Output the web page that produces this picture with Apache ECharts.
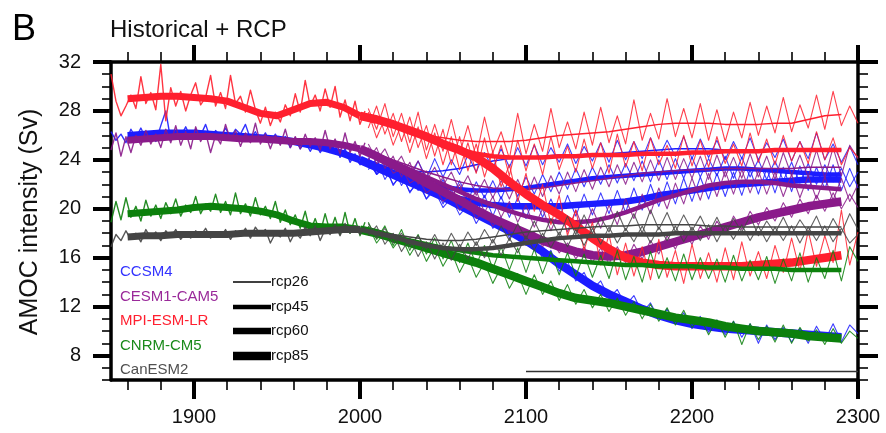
<!DOCTYPE html>
<html><head><meta charset="utf-8">
<script src="https://cdn.jsdelivr.net/npm/echarts@6/dist/echarts.min.js"></script>
<style>html,body{margin:0;padding:0;background:#fff}#c{width:886px;height:433px}</style>
</head><body><div id="c"></div><script>
// ---------- axis ticks ----------
const xMajor = [1900, 2000, 2100, 2200, 2300];
const xMinor = [1860,1880,1920,1940,1960,1980,2020,2040,2060,2080,2120,2140,2160,2180,2220,2240,2260,2280];
const yMajor = [8, 12, 16, 20, 24, 28, 32];
const yMinor = [6,7,9,10,11,13,14,15,17,18,19,21,22,23,25,26,27,29,30,31];

// ---------- year grids ----------
const histNoiseStart = 1850, histNoiseStep = 3;   // annual-ish historical values
const histSmoothStart = 1860, histSmoothStep = 10; // smoothed historical
const rcpNoiseStart = 2005, rcpNoiseStep = 5;     // scenario values
const rcpSmoothStart = 2000, rcpSmoothStep = 10;  // smoothed scenario

// ---------- CCSM4 ----------
const ccsm4Hist = [26.3,25.6,26.1,25.4,26.5,25.8,26.6,25.7,26.3,25.5,26.8,28.0,25.6,26.4,25.9,26.7,25.8,26.5,26.0,26.9,25.7,26.4,25.9,26.6,25.8,26.5,26.1,26.9,25.7,26.3,25.5,26.2,25.4,26.1,25.3,25.9,25.0,25.8,24.9,25.5,24.7,25.4,24.6,25.2,24.6,25.2,24.2,24.9,23.8,24.5,23.6,24.1];
const ccsm4HistSmooth = [26.0,26.1,26.2,26.2,26.2,26.1,26.0,25.9,25.8,25.7,25.5,25.2,24.9,24.5,24.0];
const ccsm4Rcp26 = [23.8,22.9,24.0,22.6,23.7,22.4,23.9,22.5,24.1,22.6,24.0,22.8,24.4,23.0,24.6,23.3,24.9,23.4,25.0,23.5,25.2,23.6,25.0,23.8,25.3,23.7,25.1,23.9,25.4,23.8,25.6,24.0,25.5,24.1,25.8,24.2,25.6,24.3,25.9,24.1,25.7,24.2,25.6,24.0,25.5,24.1,25.8,24.0,25.4,24.2,25.7,23.9,25.5,24.1,26.2,24.0,25.3,23.8,25.1,23.6];
const ccsm4Rcp45 = [23.2,24.1,22.4,23.5,21.9,23.0,21.5,22.6,21.0,22.4,20.8,22.3,20.7,22.2,20.9,22.3,20.8,22.5,21.0,22.6,21.2,22.8,21.4,23.0,21.6,23.3,21.8,23.4,22.0,23.6,22.1,23.7,22.3,23.9,22.2,24.0,22.4,24.1,22.5,24.2,22.6,24.1,22.7,24.3,22.5,24.2,22.6,24.0,22.4,23.9,22.3,23.8,22.1,23.7,22.0,23.6,22.2,23.3,21.8,23.0];
const ccsm4Rcp60 = [24.2,22.8,23.6,21.9,22.9,21.3,22.4,20.8,21.9,20.4,21.6,19.9,21.3,19.6,21.1,19.4,21.0,19.3,20.9,19.2,21.0,19.3,20.8,19.2,21.1,19.4,21.2,19.5,21.3,19.6,21.5,19.7,21.7,19.9,22.0,20.2,22.2,20.4,22.5,20.6,22.6,20.8,22.9,21.0,23.0,21.1,23.2,21.2,23.3,21.3,23.4,21.4,23.5,21.5,23.4,21.6,23.6,21.5,23.3,21.7];
const ccsm4Rcp85 = [23.9,22.8,23.4,22.0,22.8,21.4,22.1,20.8,21.5,20.1,20.9,19.5,20.3,18.8,19.9,18.4,19.3,17.6,18.6,17.0,17.6,15.9,16.6,14.9,15.7,14.1,14.8,13.4,14.1,12.7,13.4,12.1,12.9,11.5,12.3,11.0,11.8,10.6,11.5,10.2,11.2,9.9,10.9,9.7,10.8,9.5,10.6,9.0,10.5,9.3,10.3,9.1,10.2,9.0,10.4,9.2,10.6,9.1,10.5,9.8];
const ccsm4Rcp26Smooth = [24.0,23.6,23.3,23.1,23.0,23.1,23.3,23.6,23.9,24.1,24.2,24.3,24.4,24.4,24.5,24.5,24.6,24.7,24.8,24.9,24.9,24.9,24.8,24.8,24.8,24.8,24.8,24.8,24.8,24.8];
const ccsm4Rcp45Smooth = [24.0,23.5,23.0,22.5,22.1,21.8,21.6,21.5,21.5,21.6,21.7,21.9,22.1,22.3,22.5,22.6,22.7,22.8,22.9,23.0,23.1,23.2,23.3,23.3,23.2,23.1,23.0,22.9,22.8,22.8];
const ccsm4Rcp60Smooth = [24.0,23.5,22.9,22.3,21.7,21.2,20.8,20.5,20.3,20.2,20.2,20.2,20.2,20.3,20.4,20.5,20.6,20.8,21.1,21.3,21.5,21.7,21.9,22.0,22.1,22.2,22.3,22.4,22.4,22.4];
const ccsm4Rcp85Smooth = [24.0,23.4,22.8,22.2,21.6,21.0,20.3,19.6,18.9,18.2,17.4,16.5,15.5,14.6,13.7,13.0,12.4,11.8,11.3,10.9,10.6,10.4,10.2,10.1,10.0,9.9,9.8,9.7,9.6,9.5];

// ---------- CESM1-CAM5 ----------
const cesmHist = [24.8,26.2,24.3,25.9,24.6,26.0,25.2,26.4,25.3,26.1,25.0,26.5,25.4,26.8,25.2,26.3,24.9,26.7,25.5,26.2,24.6,26.0,25.3,26.9,25.6,26.4,25.1,26.2,25.4,27.0,25.3,26.1,24.9,26.0,25.2,26.5,25.0,25.9,24.9,26.1,25.1,25.8,24.8,26.4,24.9,25.7,24.5,26.2,24.6,25.5,24.3,25.4];
const cesmHistSmooth = [25.6,25.7,25.8,25.9,25.9,25.9,25.8,25.7,25.7,25.6,25.5,25.5,25.4,25.2,24.9];
const cesmRcp26 = [25.3,24.0,24.9,23.4,24.3,22.8,23.9,22.3,23.4,21.9,23.0,21.5,22.7,21.1,22.4,20.9,22.3,20.8,22.4,20.9,22.6,21.0,22.7,21.2,23.0,21.4,23.2,21.6,23.4,21.8,23.6,22.0,23.8,22.2,24.0,22.3,24.2,22.4,24.1,22.5,24.3,22.4,24.4,22.6,24.2,22.5,24.5,22.6,24.3,22.4,24.6,22.7,24.4,22.6,24.8,22.5,25.0,22.7,25.2,24.1];
const cesmRcp45 = [24.0,25.0,23.3,24.3,22.6,23.8,22.0,23.1,21.4,22.6,20.9,22.0,20.2,21.5,19.7,21.0,19.3,20.6,18.9,20.3,18.5,20.0,18.2,19.8,18.1,19.9,18.2,20.0,18.4,20.3,18.7,20.8,19.2,21.2,19.6,21.7,20.0,22.1,20.4,22.5,20.7,22.9,21.0,23.1,21.2,23.2,21.3,23.1,21.2,23.0,21.0,22.8,20.9,22.7,20.8,22.6,20.7,22.5,20.6,22.0];
const cesmRcp85 = [25.0,23.7,24.1,22.9,23.3,22.1,22.5,21.3,21.8,20.6,21.1,19.9,20.4,19.2,19.8,18.6,19.2,18.0,18.7,17.4,18.1,16.9,17.6,16.4,17.2,15.9,16.9,15.6,16.8,15.5,16.9,15.6,17.1,15.9,17.4,16.3,17.8,16.7,18.2,17.1,18.6,17.5,19.0,17.9,19.4,18.3,19.8,18.7,20.1,19.0,20.5,19.3,20.8,19.6,21.1,19.8,21.3,20.0,21.2,20.1];
const cesmRcp26Smooth = [24.9,24.5,24.0,23.5,23.0,22.6,22.2,21.9,21.7,21.6,21.6,21.7,21.9,22.1,22.3,22.5,22.7,22.9,23.0,23.1,23.2,23.2,23.3,23.3,23.3,23.3,23.3,23.4,23.4,23.4];
const cesmRcp45Smooth = [24.9,24.4,23.8,23.2,22.6,22.0,21.4,20.8,20.3,19.8,19.4,19.1,18.9,18.9,19.0,19.3,19.7,20.2,20.7,21.1,21.5,21.9,22.1,22.2,22.2,22.1,21.9,21.8,21.7,21.6];
const cesmRcp85Smooth = [24.9,24.3,23.6,22.9,22.1,21.4,20.7,19.9,19.2,18.6,18.0,17.4,16.9,16.5,16.2,16.1,16.2,16.5,16.9,17.3,17.7,18.1,18.5,18.9,19.3,19.6,19.9,20.2,20.4,20.6];

// ---------- MPI-ESM-LR ----------
const mpiHist = [31.0,28.8,27.6,28.4,29.3,28.2,30.8,28.6,29.5,28.1,31.8,27.2,29.9,28.4,29.6,28.0,29.3,30.3,28.5,29.1,30.9,28.4,29.5,28.2,30.9,28.6,29.2,27.9,29.7,28.1,27.0,28.3,26.8,27.9,27.1,28.5,27.6,29.4,27.9,30.5,28.4,29.3,28.0,29.8,28.3,30.0,27.5,28.9,27.2,28.8,26.9,28.0];
const mpiHistSmooth = [29.0,29.1,29.2,29.2,29.1,29.0,28.8,28.3,27.8,27.6,28.1,28.6,28.7,28.3,27.6];
const mpiRcp26 = [28.2,26.5,28.6,25.9,27.8,25.4,27.9,24.8,26.9,24.7,27.3,24.5,26.8,24.2,27.5,24.6,26.3,24.1,27.8,24.5,26.9,24.7,28.2,25.0,27.1,24.9,27.9,25.2,28.3,25.4,27.6,25.3,28.9,25.6,27.8,25.7,29.0,25.9,28.2,25.8,28.6,25.6,28.1,25.5,27.9,25.8,28.7,26.0,28.4,26.2,29.1,26.3,28.5,26.6,29.3,26.5,29.6,26.8,28.4,27.0];
const mpiRcp45 = [27.9,25.8,27.4,25.2,26.9,24.6,26.7,24.1,26.2,23.6,25.9,23.2,25.4,22.9,25.8,23.0,25.2,22.7,25.6,23.1,25.3,22.8,25.9,23.2,25.1,23.0,25.7,23.3,25.4,22.9,26.1,23.4,25.5,23.1,25.8,23.6,25.2,23.3,26.0,23.5,25.6,23.4,25.9,23.7,25.3,23.5,26.2,23.8,25.7,23.6,26.0,23.9,25.5,23.7,26.3,24.0,25.8,23.6,25.0,24.2];
const mpiRcp85 = [26.6,28.4,26.1,27.8,25.5,27.5,25.0,26.8,24.3,26.5,23.6,25.9,23.1,25.3,22.6,24.7,21.8,23.6,20.6,22.9,19.8,22.0,18.7,21.1,17.8,19.9,16.6,18.9,15.4,17.9,14.6,17.2,14.5,16.9,14.2,17.5,14.4,16.6,13.9,17.1,14.3,16.4,14.0,16.8,14.2,17.3,14.5,16.5,14.3,17.0,14.8,17.6,14.9,18.2,15.3,17.8,15.6,19.9,15.4,18.1];
const mpiRcp26Smooth = [27.6,27.2,26.8,26.4,26.0,25.8,25.6,25.5,25.5,25.5,25.6,25.8,26.0,26.1,26.2,26.3,26.5,26.7,26.9,27.0,27.0,27.0,26.9,26.9,26.9,27.0,27.0,27.3,27.6,27.7];
const mpiRcp45Smooth = [27.6,27.3,26.9,26.4,25.9,25.3,24.8,24.5,24.3,24.2,24.2,24.2,24.3,24.3,24.4,24.4,24.4,24.5,24.5,24.5,24.6,24.6,24.7,24.7,24.7,24.8,24.8,24.8,24.8,24.8];
const mpiRcp85Smooth = [27.6,27.3,26.9,26.4,25.9,25.3,24.8,24.2,23.3,22.2,21.2,20.3,19.5,18.6,17.6,16.7,16.0,15.6,15.4,15.3,15.3,15.3,15.3,15.3,15.4,15.5,15.6,15.8,16.0,16.2];

// ---------- CNRM-CM5 ----------
const cnrmHist = [18.9,20.6,19.1,20.9,19.3,20.2,19.0,20.7,19.4,20.3,19.2,20.5,19.6,20.8,19.4,20.3,19.7,21.0,19.6,20.4,19.8,21.2,19.7,20.6,19.5,21.3,19.6,20.4,19.4,20.9,19.5,20.2,19.2,20.6,18.9,19.9,18.7,19.5,18.4,19.8,18.1,19.2,18.0,19.6,18.1,19.3,17.9,19.7,18.0,19.2,17.8,18.9];
const cnrmHistSmooth = [19.6,19.7,19.8,19.9,20.1,20.2,20.1,20.0,19.8,19.5,19.0,18.6,18.5,18.5,18.3];
const cnrmRcp45 = [18.9,17.5,18.6,17.0,18.3,16.6,17.9,16.3,17.6,15.9,17.4,15.6,17.2,15.4,17.0,15.1,16.9,15.0,16.8,14.8,16.7,14.7,16.5,14.6,16.4,14.5,16.3,14.4,16.2,14.3,16.6,14.2,16.1,14.0,16.5,14.3,16.0,14.1,16.3,14.2,16.0,14.3,15.9,14.0,16.2,14.1,15.8,14.2,16.1,13.9,15.9,14.1,16.4,14.0,16.0,14.3,16.6,14.1,16.9,15.7];
const cnrmRcp85 = [18.6,17.2,18.1,16.8,17.7,16.2,17.3,15.7,16.9,15.3,16.5,14.8,16.1,14.4,15.6,13.9,15.2,13.5,14.7,13.0,14.6,13.0,14.1,12.5,13.8,12.2,13.4,11.9,13.0,11.6,12.7,11.3,12.4,11.0,12.2,10.8,11.9,10.5,11.7,10.3,11.1,9.7,10.9,9.5,10.8,8.9,10.6,9.3,10.4,9.1,10.5,9.0,10.3,9.2,10.1,8.9,10.2,9.0,10.0,9.4];
const cnrmRcp45Smooth = [18.3,18.0,17.7,17.4,17.1,16.8,16.6,16.4,16.2,16.1,16.0,15.9,15.8,15.7,15.6,15.5,15.4,15.4,15.3,15.3,15.3,15.2,15.2,15.1,15.1,15.1,15.0,15.0,15.0,15.0];
const cnrmRcp85Smooth = [18.3,18.0,17.6,17.2,16.8,16.4,16.0,15.6,15.1,14.6,14.1,13.6,13.1,12.7,12.5,12.3,12.0,11.7,11.4,11.1,10.9,10.7,10.4,10.2,10.0,9.9,9.8,9.6,9.5,9.4];

// ---------- CanESM2 ----------
const canHist = [16.9,17.9,17.4,18.2,17.5,18.0,17.3,18.3,17.6,18.1,17.4,18.2,17.7,18.3,17.5,18.0,17.6,18.2,17.8,18.4,17.6,18.1,17.7,18.3,17.5,18.2,17.8,18.4,17.6,18.5,17.9,18.3,17.2,18.0,17.7,18.4,17.3,18.1,17.6,18.5,17.8,18.6,17.4,18.3,17.9,18.7,17.8,18.8,18.0,18.6,17.9,18.5];
const canHistSmooth = [17.7,17.8,17.8,17.9,17.9,17.9,17.9,18.0,18.0,18.0,18.0,18.1,18.2,18.3,18.3];
const canRcp26 = [18.8,17.6,18.4,17.2,18.0,16.9,17.8,16.7,17.9,16.6,18.0,16.8,18.1,17.0,18.3,17.2,18.6,17.4,18.8,17.5,19.0,17.6,19.2,17.8,19.4,17.9,19.5,18.0,19.3,18.1,19.8,18.2,19.6,18.0,19.9,18.3,19.7,18.1,19.5,18.2,19.4,18.0,19.3,17.9,19.2,18.1,19.4,17.8,19.0,18.0,19.3,17.9,19.1,18.1,19.4,17.8,19.2,18.0,19.6,18.3];
const canRcp45 = [17.8,18.6,17.1,18.0,16.5,17.6,16.1,17.3,15.9,17.2,15.8,17.1,15.9,17.3,16.0,17.5,16.2,17.6,16.4,17.8,16.6,18.0,16.8,18.1,16.9,18.3,17.0,18.4,17.1,18.5,17.2,18.4,17.3,18.6,17.2,18.5,17.4,18.6,17.3,18.5,17.4,18.7,17.3,18.6,17.5,18.7,17.4,18.6,17.3,18.5,17.4,18.6,17.2,18.5,17.4,18.6,17.3,18.4,17.2,17.9];
const canRcp26Smooth = [18.3,18.1,17.9,17.7,17.5,17.4,17.4,17.5,17.7,17.9,18.1,18.2,18.3,18.4,18.5,18.6,18.6,18.7,18.7,18.7,18.7,18.6,18.6,18.5,18.5,18.5,18.5,18.5,18.5,18.5];
const canRcp45Smooth = [18.3,18.0,17.7,17.3,17.0,16.8,16.7,16.7,16.8,17.0,17.2,17.4,17.6,17.7,17.8,17.8,17.9,17.9,17.9,18.0,18.0,18.0,18.0,18.0,18.0,18.0,18.0,18.0,18.0,18.0];

// ---------- RCP period marker ----------
const rcpPeriodYears = [2100, 2300];
const rcpPeriodLevel = [6.7, 6.7];

// ---------- legend labels ----------
const modelNames = ['CCSM4', 'CESM1-CAM5', 'MPI-ESM-LR', 'CNRM-CM5', 'CanESM2'];
const scenarioNames = ['rcp26', 'rcp45', 'rcp60', 'rcp85'];

// ================= styling & assembly =================
const FONT = '"Liberation Sans", Arial, Helvetica, sans-serif';
const COLORS = {CCSM4:'#1c1cff', 'CESM1-CAM5':'#8a1a8a', 'MPI-ESM-LR':'#ff1f2e', 'CNRM-CM5':'#0c800c', CanESM2:'#444444'};
const LEGEND_COLORS = {CCSM4:'#3333ff', 'CESM1-CAM5':'#9a2a9a', 'MPI-ESM-LR':'#ff2030', 'CNRM-CM5':'#1a8a1a', CanESM2:'#505050'};
const SMOOTH_W = {rcp26:1.5, rcp45:4.5, rcp60:6.5, rcp85:8.5, hist:7};

function pairs(start, step, vals){ return vals.map((v,i)=>[start+i*step, v]); }

const models = [
  {name:'CCSM4', hist:ccsm4Hist, histSmooth:ccsm4HistSmooth, rcps:[
    ['rcp26',ccsm4Rcp26,ccsm4Rcp26Smooth],['rcp45',ccsm4Rcp45,ccsm4Rcp45Smooth],
    ['rcp60',ccsm4Rcp60,ccsm4Rcp60Smooth],['rcp85',ccsm4Rcp85,ccsm4Rcp85Smooth]]},
  {name:'CESM1-CAM5', hist:cesmHist, histSmooth:cesmHistSmooth, rcps:[
    ['rcp26',cesmRcp26,cesmRcp26Smooth],['rcp45',cesmRcp45,cesmRcp45Smooth],['rcp85',cesmRcp85,cesmRcp85Smooth]]},
  {name:'MPI-ESM-LR', hist:mpiHist, histSmooth:mpiHistSmooth, rcps:[
    ['rcp26',mpiRcp26,mpiRcp26Smooth],['rcp45',mpiRcp45,mpiRcp45Smooth],['rcp85',mpiRcp85,mpiRcp85Smooth]]},
  {name:'CNRM-CM5', hist:cnrmHist, histSmooth:cnrmHistSmooth, rcps:[
    ['rcp45',cnrmRcp45,cnrmRcp45Smooth],['rcp85',cnrmRcp85,cnrmRcp85Smooth]]},
  {name:'CanESM2', hist:canHist, histSmooth:canHistSmooth, rcps:[
    ['rcp26',canRcp26,canRcp26Smooth],['rcp45',canRcp45,canRcp45Smooth]]}
];

function line(data, color, width, opacity){
  return {type:'line', data, xAxisIndex:0, yAxisIndex:0, symbol:'none', showSymbol:false,
    silent:true, animation:false, clip:true, emphasis:{disabled:true},
    lineStyle:{color, width, opacity: opacity==null?1:opacity, cap:'butt', join:'round'}};
}

const series = [];
models.forEach(m=>{
  const c = COLORS[m.name];
  series.push(line(pairs(histNoiseStart, histNoiseStep, m.hist), c, 1.4, 0.9));
  m.rcps.forEach(r=> series.push(line(pairs(rcpNoiseStart, rcpNoiseStep, r[1]), c, 1.1, 0.85)));
  series.push(line(pairs(histSmoothStart, histSmoothStep, m.histSmooth), c, SMOOTH_W.hist));
  m.rcps.forEach(r=> series.push(line(pairs(rcpSmoothStart, rcpSmoothStep, r[2]), c, SMOOTH_W[r[0]])));
});
series.push(line(rcpPeriodYears.map((x,i)=>[x, rcpPeriodLevel[i]]), '#333', 1.5));

const plain = v => String(v);
function xAx(grid, pos, ticks, len, w, showLine, showLabel){
  return {gridIndex:grid, type:'value', position:pos, min:1850, max:2300,
    axisLine:{show:showLine, onZero:false, lineStyle:{color:'#000', width:3.5}},
    axisTick:{show:true, customValues:ticks, length:len, inside:false, lineStyle:{color:'#000', width:w}},
    axisLabel:{show:showLabel, customValues:ticks, formatter:plain, fontSize:20, color:'#111', margin:27, fontFamily:FONT},
    splitLine:{show:false}, minorTick:{show:false}};
}
function yAx(grid, pos, ticks, len, w, showLine, showLabel){
  return {gridIndex:grid, type:'value', position:pos, min:6, max:32,
    axisLine:{show:showLine, onZero:false, lineStyle:{color:'#000', width:3.5}},
    axisTick:{show:true, customValues:ticks, length:len, inside:false, lineStyle:{color:'#000', width:w}},
    axisLabel:{show:showLabel, customValues:ticks, formatter:plain, fontSize:20, color:'#111', margin:30, fontFamily:FONT},
    splitLine:{show:false}, minorTick:{show:false}};
}

const graphic = [
  {type:'text', x:12, y:30, style:{text:'B', font:'36px '+FONT, fill:'#000', textAlign:'left', align:'left', textVerticalAlign:'middle', verticalAlign:'middle'}},
  {type:'text', x:110, y:30, style:{text:'Historical + RCP', font:'24px '+FONT, fill:'#111', textAlign:'left', align:'left', textVerticalAlign:'middle', verticalAlign:'middle'}},
  {type:'text', x:30, y:222, rotation:Math.PI/2, style:{text:'AMOC intensity (Sv)', font:'25px '+FONT, fill:'#111', textAlign:'center', align:'center', textVerticalAlign:'middle', verticalAlign:'middle'}}
];
const modelY = [272, 297, 321, 346, 370];
modelNames.forEach((n,i)=> graphic.push({type:'text', x:120, y:modelY[i], style:{text:n, font:'15px '+FONT, fill:LEGEND_COLORS[n], textAlign:'left', align:'left', textVerticalAlign:'middle', verticalAlign:'middle'}}));
const scenY = [282, 307, 331, 356];
scenarioNames.forEach((s,i)=>{
  graphic.push({type:'line', shape:{x1:233, y1:scenY[i], x2:271, y2:scenY[i]}, style:{stroke:'#000', lineWidth:SMOOTH_W[s]}});
  graphic.push({type:'text', x:271, y:scenY[i], style:{text:s, font:'15px '+FONT, fill:'#111', textAlign:'left', align:'left', textVerticalAlign:'middle', verticalAlign:'middle'}});
});

const chart = echarts.init(document.getElementById('c'), null, {renderer:'canvas'});
chart.setOption({
  backgroundColor:'#fff',
  animation:false,
  grid:[{left:111, right:28, top:62, bottom:53, containLabel:false},
        {left:111, right:28, top:62, bottom:53, containLabel:false}],
  xAxis:[xAx(0,'bottom',xMajor,19,4,true,true), xAx(0,'top',xMajor,17,4,true,false),
         xAx(1,'bottom',xMinor,10,1.6,false,false), xAx(1,'top',xMinor,10,1.6,false,false)],
  yAxis:[yAx(0,'left',yMajor,18,4,true,true), yAx(0,'right',yMajor,20,4,true,false),
         yAx(1,'left',yMinor,9,1.6,false,false), yAx(1,'right',yMinor,10,1.6,false,false)],
  series,
  graphic
});
</script></body></html>
